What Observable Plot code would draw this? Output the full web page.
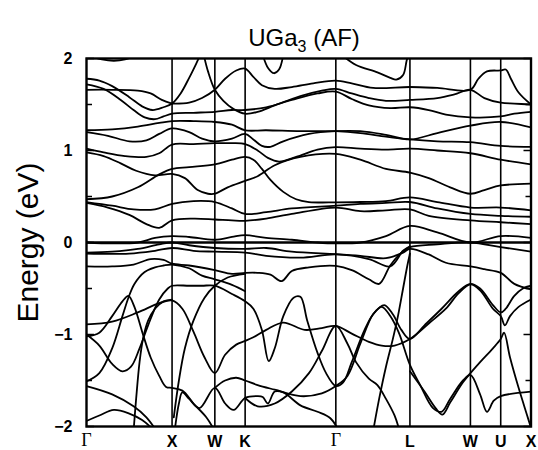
<!DOCTYPE html>
<html>
<head>
<meta charset="utf-8">
<script src="https://cdn.jsdelivr.net/npm/d3@7"></script>
<script src="https://cdn.jsdelivr.net/npm/@observablehq/plot@0.6"></script>
<style>
  body { margin: 0; background: #fff; }
  #wrap { position: relative; width: 538px; height: 450px; }
  #title {
    position: absolute; left: 82px; width: 444px; top: 24px; line-height: 23px;
    text-align: center; font: 24px "Liberation Sans", Arial, sans-serif; color: #000;
  }
  #title sub { font-size: 16px; vertical-align: -6px; line-height: 0; }
  #chart { position: absolute; left: 0; top: 0; }
</style>
</head>
<body>
<div id="wrap">
  <div id="chart"></div>
  <div id="title">UGa<sub>3</sub> (AF)</div>
</div>
<script>
// High-symmetry points along the fcc path (k in units of 2π/a)
const symPoints = [0, 1, 1.5, 1.854, 2.914, 3.780, 4.487, 4.841, 5.195];
const symLabels = ["Γ", "X", "W", "K", "Γ", "L", "W", "U", "X"];

// Energy axis ticks (eV)
const energyTicks = [-2, -1, 0, 1, 2];
const halfTicks = [-1.5, -0.5, 0.5, 1.5];

// Bands above ~1 eV, each a list of [k, E] points
const upperBands = [
  [[0.04,2.03],[0.18,1.99],[0.32,1.975],[0.45,1.99],[0.56,2.03]],
  [[0,1.78],[0.15,1.76],[0.3,1.70],[0.5,1.58],[0.65,1.48],[0.77,1.44],[0.9,1.47],[1,1.51],[1.1,1.62],[1.2,1.79],[1.28,1.94],[1.33,2.04]],
  [[1.37,2.04],[1.42,1.86],[1.5,1.66],[1.6,1.54],[1.72,1.45],[1.854,1.40],[2.0,1.42],[2.2,1.49],[2.5,1.59],[2.75,1.65],[2.914,1.67],[3.1,1.62],[3.3,1.57],[3.5,1.54],[3.78,1.55],[4.1,1.57],[4.3,1.61],[4.487,1.66],[4.65,1.57],[4.841,1.52],[5.0,1.51],[5.195,1.50]],
  [[0,1.72],[0.2,1.67],[0.4,1.55],[0.55,1.44],[0.68,1.36],[0.8,1.34],[0.9,1.37],[1,1.40],[1.25,1.41],[1.5,1.42],[1.7,1.44],[1.854,1.44],[2.1,1.47],[2.4,1.55],[2.7,1.62],[2.914,1.64],[3.1,1.56],[3.3,1.49],[3.55,1.46],[3.78,1.47],[4.0,1.44],[4.2,1.39],[4.487,1.36],[4.841,1.37],[5.0,1.40],[5.195,1.42]],
  [[1,1.51],[1.2,1.52],[1.35,1.57],[1.5,1.66],[1.62,1.78],[1.75,1.87],[1.854,1.89],[1.95,1.80],[2.05,1.71],[2.2,1.67],[2.4,1.69],[2.65,1.73],[2.914,1.76],[3.1,1.73],[3.35,1.68],[3.78,1.69],[4.1,1.68],[4.487,1.66],[4.58,1.78],[4.68,1.86],[4.841,1.87],[4.9,1.88],[4.96,1.78],[5.05,1.63],[5.195,1.50]],
  [[0,1.66],[0.3,1.66],[0.6,1.65],[0.75,1.62],[0.88,1.55],[1,1.51]],
  [[2.06,2.04],[2.12,1.90],[2.19,1.84],[2.25,1.88],[2.30,2.04]],
  [[2.98,2.04],[3.15,1.93],[3.4,1.85],[3.55,1.79],[3.62,1.77],[3.7,1.82],[3.74,1.97],[3.76,2.04]]
];

// Bands between ~0.1 and 1.3 eV
const middleBands = [
  [[0,1.22],[0.3,1.23],[0.6,1.26],[0.85,1.30],[1,1.32],[1.25,1.32],[1.5,1.31],[1.7,1.28],[1.854,1.22],[2.1,1.22],[2.5,1.21],[2.914,1.21],[3.2,1.19],[3.5,1.15],[3.78,1.12],[4.1,1.10],[4.487,1.09],[4.841,1.05],[5.195,1.04]],
  [[0,1.20],[0.25,1.16],[0.5,1.10],[0.7,1.11],[0.85,1.18],[1,1.24],[1.2,1.20],[1.35,1.13],[1.5,1.10],[1.7,1.13],[1.854,1.18],[1.95,1.12],[2.05,1.05],[2.15,1.04],[2.3,1.10],[2.6,1.18],[2.914,1.21],[3.2,1.21],[3.5,1.17],[3.78,1.12],[4.1,1.19],[4.487,1.27],[4.841,1.31],[5.195,1.25]],
  [[0,1.02],[0.2,0.98],[0.45,0.94],[0.7,0.93],[0.85,0.97],[1,1.065],[1.25,1.07],[1.5,1.08],[1.7,1.08],[1.854,1.07],[2.0,1.0],[2.12,0.92],[2.25,0.88],[2.45,0.93],[2.7,1.01],[2.914,1.036],[3.2,1.02],[3.5,1.01],[3.78,1.02],[4.1,1.0],[4.487,0.97],[4.841,0.90],[5.195,0.85]],
  [[0,0.98],[0.2,0.94],[0.4,0.86],[0.58,0.78],[0.8,0.73],[1,0.745],[1.15,0.70],[1.3,0.57],[1.42,0.53],[1.5,0.53],[1.65,0.60],[1.854,0.67],[2.0,0.72],[2.2,0.84],[2.5,0.93],[2.914,0.963],[3.2,0.90],[3.5,0.80],[3.78,0.76],[4.0,0.70],[4.25,0.60],[4.487,0.53],[4.65,0.57],[4.841,0.62],[5.195,0.64]],
  [[0,0.47],[0.3,0.50],[0.6,0.60],[0.85,0.74],[1,0.80],[1.2,0.82],[1.5,0.85],[1.7,0.90],[1.854,0.93],[1.95,0.90],[2.05,0.80],[2.15,0.68],[2.3,0.55],[2.45,0.47],[2.6,0.44],[2.914,0.436],[3.2,0.44],[3.5,0.45],[3.78,0.49],[4.1,0.44],[4.487,0.38],[4.841,0.38],[5.195,0.35]],
  [[0,0.44],[0.3,0.40],[0.55,0.36],[0.8,0.36],[1,0.42],[1.25,0.45],[1.5,0.44],[1.7,0.37],[1.854,0.31],[2.1,0.33],[2.4,0.37],[2.914,0.40],[3.2,0.42],[3.5,0.43],[3.78,0.44],[4.1,0.37],[4.487,0.31],[4.841,0.29],[5.195,0.28]],
  [[0,0.43],[0.25,0.38],[0.5,0.30],[0.7,0.20],[0.85,0.16],[1,0.24],[1.25,0.26],[1.5,0.25],[1.7,0.24],[1.854,0.236],[2.1,0.26],[2.4,0.31],[2.914,0.38],[3.2,0.34],[3.5,0.35],[3.78,0.36],[4.0,0.29],[4.487,0.24],[4.841,0.22],[5.195,0.20]]
];

// Bands around the Fermi level
const fermiBands = [
  [[0,-0.11],[0.3,-0.10],[0.6,-0.07],[0.85,-0.02],[1,0.0],[1.2,-0.03],[1.5,-0.06],[1.854,-0.07],[2.1,-0.06],[2.4,-0.10],[2.914,-0.127],[3.2,-0.145],[3.5,-0.17],[3.7,-0.11],[3.78,-0.07],[4.0,-0.13],[4.2,-0.22],[4.487,-0.26],[4.65,-0.29],[4.841,-0.33],[5.0,-0.45],[5.195,-0.51]],
  [[0,0.0],[0.3,-0.01],[0.6,0.0],[0.8,0.05],[1,0.07],[1.2,0.06],[1.5,0.03],[1.7,0.06],[1.854,0.08],[2.1,0.05],[2.4,0.03],[2.7,0.0],[2.914,-0.01],[3.2,0.0],[3.5,0.07],[3.78,0.18],[4.1,0.11],[4.487,0.0],[4.841,0.07],[5.195,0.05]],
  [[0,-0.26],[0.3,-0.26],[0.55,-0.24],[0.75,-0.18],[0.9,-0.19],[1,-0.23],[1.2,-0.25],[1.5,-0.30],[1.7,-0.34],[1.854,-0.33],[2.0,-0.33],[2.15,-0.35],[2.28,-0.42],[2.4,-0.31],[2.6,-0.27],[2.914,-0.255],[3.1,-0.30],[3.3,-0.40],[3.42,-0.45],[3.55,-0.25],[3.68,-0.11],[3.78,-0.05],[4.1,-0.02],[4.487,0.0],[4.841,-0.05],[5.195,-0.10]],
  [[0,-0.12],[0.5,-0.12],[0.8,-0.09],[1,-0.06],[1.25,-0.09],[1.5,-0.10],[1.854,-0.11],[2.1,-0.145],[2.5,-0.164],[2.914,-0.13],[3.3,-0.18],[3.55,-0.26],[3.7,-0.09],[3.78,-0.04]]
];

// Bands below -0.4 eV
const lowerBands = [
  [[0,-0.89],[0.3,-0.86],[0.6,-0.76],[0.85,-0.66],[1,-0.63],[1.12,-0.72],[1.25,-0.97],[1.38,-1.25],[1.5,-1.42],[1.62,-1.22],[1.75,-1.11],[1.854,-1.07],[1.95,-1.03],[2.1,-0.95],[2.3,-0.87],[2.55,-0.95],[2.75,-0.93],[2.914,-0.907],[3.1,-0.99],[3.3,-1.08],[3.45,-1.12],[3.6,-1.12],[3.78,-1.05],[4.0,-0.88],[4.2,-0.72],[4.35,-0.55],[4.487,-0.455],[4.6,-0.52],[4.75,-0.72],[4.841,-0.80],[4.89,-0.9],[4.95,-0.8],[5.05,-0.7],[5.195,-0.62]],
  [[0,-1.0],[0.15,-1.12],[0.3,-1.32],[0.42,-1.40],[0.52,-1.35],[0.62,-1.15],[0.72,-0.9],[0.85,-0.62],[0.95,-0.5],[1,-0.47],[1.2,-0.47],[1.35,-0.47],[1.5,-0.47],[1.7,-0.56],[1.854,-0.64],[1.95,-0.72],[2.05,-0.95],[2.13,-1.29],[2.2,-1.15],[2.3,-0.8],[2.42,-0.6],[2.5,-0.59],[2.58,-0.85],[2.7,-1.2],[2.8,-1.42],[2.914,-1.56],[3.0,-1.52],[3.1,-1.3],[3.25,-0.95],[3.35,-0.78],[3.48,-0.68],[3.58,-0.78],[3.68,-0.95],[3.78,-1.05],[3.95,-0.9],[4.15,-0.72],[4.35,-0.53],[4.487,-0.45],[4.6,-0.5],[4.75,-0.68],[4.841,-0.76],[4.9,-0.72],[5.0,-0.58],[5.1,-0.5],[5.195,-0.47]],
  [[1.02,-1.9],[1.08,-1.5],[1.15,-1.15],[1.25,-0.85],[1.38,-0.6],[1.5,-0.47],[1.65,-0.38],[1.854,-0.34]],
  [[0,-1.02],[0.15,-0.98],[0.3,-0.80],[0.42,-0.64],[0.49,-0.58],[0.56,-0.70],[0.66,-1.0],[0.75,-1.25],[0.85,-1.45],[0.93,-1.57],[1,-1.58],[1.12,-1.61],[1.25,-1.75],[1.4,-1.9],[1.5,-2.05]],
  [[0,-1.51],[0.15,-1.42],[0.3,-1.15],[0.42,-0.80],[0.49,-0.60],[0.56,-0.45],[0.68,-0.32],[0.8,-0.27],[0.9,-0.25],[1,-0.24],[1.2,-0.28],[1.35,-0.36],[1.5,-0.40],[1.7,-0.46],[1.854,-0.53]],
  [[0.55,-2.05],[0.58,-1.7],[0.62,-1.3],[0.66,-1.05],[0.72,-0.85],[0.8,-0.72],[0.9,-0.64],[1,-0.62]],
  [[0,-1.56],[0.3,-1.65],[0.55,-1.78],[0.7,-1.9],[0.82,-2.05]],
  [[0,-1.94],[0.15,-1.88],[0.32,-1.82],[0.5,-1.86],[0.65,-1.93],[0.8,-2.05]],
  [[1.03,-2.05],[1.08,-1.75],[1.12,-1.63],[1.2,-1.7],[1.32,-1.8],[1.5,-1.58],[1.62,-1.75],[1.72,-1.82],[1.854,-1.69],[2.0,-1.67],[2.06,-1.68],[2.12,-1.75],[2.2,-1.62],[2.3,-1.63],[2.5,-1.77],[2.7,-1.84],[2.85,-1.91],[2.95,-2.05]],
  [[1.5,-1.58],[1.62,-1.5],[1.75,-1.47],[1.854,-1.5],[2.0,-1.55],[2.2,-1.6],[2.5,-1.67],[2.75,-1.64],[2.914,-1.56],[3.05,-1.45],[3.2,-1.1],[3.35,-0.78],[3.45,-0.70],[3.55,-0.8],[3.65,-0.98],[3.78,-1.33],[3.9,-1.55],[4.05,-1.8],[4.15,-1.84],[4.25,-1.7],[4.4,-1.5],[4.487,-1.44],[4.6,-1.65],[4.68,-1.84],[4.76,-1.72],[4.841,-1.67],[5.195,-1.62]],
  [[1.854,-1.69],[2.0,-1.78],[2.2,-1.75],[2.4,-1.62],[2.6,-1.42],[2.75,-1.18],[2.914,-0.907],[3.05,-1.1],[3.15,-1.3],[3.3,-1.48],[3.4,-1.55],[3.5,-1.7],[3.6,-1.88],[3.66,-2.05]],
  [[3.35,-2.05],[3.42,-1.7],[3.5,-1.35],[3.58,-1.05],[3.64,-0.8],[3.7,-0.5],[3.75,-0.25],[3.78,-0.12]],
  [[3.78,-1.4],[3.95,-1.62],[4.08,-1.8],[4.16,-1.87],[4.25,-1.74],[4.4,-1.52],[4.487,-1.42],[4.6,-1.3],[4.75,-1.15],[4.841,-1.05],[4.88,-0.98],[4.95,-1.25],[5.05,-1.58],[5.15,-1.88],[5.19,-2.0]]
];

// Flatten every band into rows for a single line mark
const rows = [];
[...upperBands, ...middleBands, ...fermiBands, ...lowerBands].forEach((pts, band) => {
  pts.forEach(([k, E]) => rows.push({band, k, E}));
});

const labelRows = symPoints.map((k, i) => ({k, name: symLabels[i]}));
const fmt = d => (d < 0 ? "\u2212" + (-d) : String(d));
const sans = "'Liberation Sans', Arial, Helvetica, sans-serif";

const chart = Plot.plot({
  width: 538,
  height: 450,
  marginLeft: 86,
  marginRight: 7.5,
  marginTop: 58,
  marginBottom: 24,
  x: {domain: [0, 5.195], axis: null},
  y: {domain: [-2, 2], axis: null},
  style: {fontFamily: sans, background: "transparent", color: "#000"},
  marks: [
    Plot.ruleX(symPoints.slice(1, -1), {stroke: "#000", strokeWidth: 1.6}),
    Plot.line(rows, {x: "k", y: "E", z: "band", curve: "catmull-rom", stroke: "#000", strokeWidth: 1.8, clip: true}),
    Plot.ruleY([0], {stroke: "#000", strokeWidth: 2.4}),
    Plot.frame({stroke: "#000", strokeWidth: 2.4}),
    // inward ticks on both sides
    Plot.axisY(energyTicks, {anchor: "left", tickSize: -8, tickPadding: 22, fontSize: 16, fontWeight: "bold", tickFormat: fmt, strokeWidth: 1.5, label: null}),
    Plot.axisY(halfTicks, {anchor: "left", tickSize: -6, tickFormat: () => "", strokeWidth: 1.5, label: null}),
    Plot.axisY(energyTicks, {anchor: "right", tickSize: -8, tickFormat: () => "", strokeWidth: 1.5, label: null}),
    Plot.axisY(halfTicks, {anchor: "right", tickSize: -6, tickFormat: () => "", strokeWidth: 1.5, label: null}),
    // k-point labels
    Plot.text(labelRows.filter(d => d.name !== "Γ"), {x: "k", text: "name", frameAnchor: "bottom", lineAnchor: "bottom", dy: 20, fontSize: 16, fontWeight: "bold"}),
    Plot.text(labelRows.filter(d => d.name === "Γ"), {x: "k", text: "name", frameAnchor: "bottom", lineAnchor: "bottom", dy: 19, fontSize: 18, fontFamily: "'Liberation Serif', 'DejaVu Serif', serif"}),
    // axis title
    Plot.text(["Energy (eV)"], {frameAnchor: "left", textAnchor: "middle", rotate: -90, dx: -58, fontSize: 30})
  ]
});
document.getElementById("chart").appendChild(chart);
</script>
</body>
</html>
